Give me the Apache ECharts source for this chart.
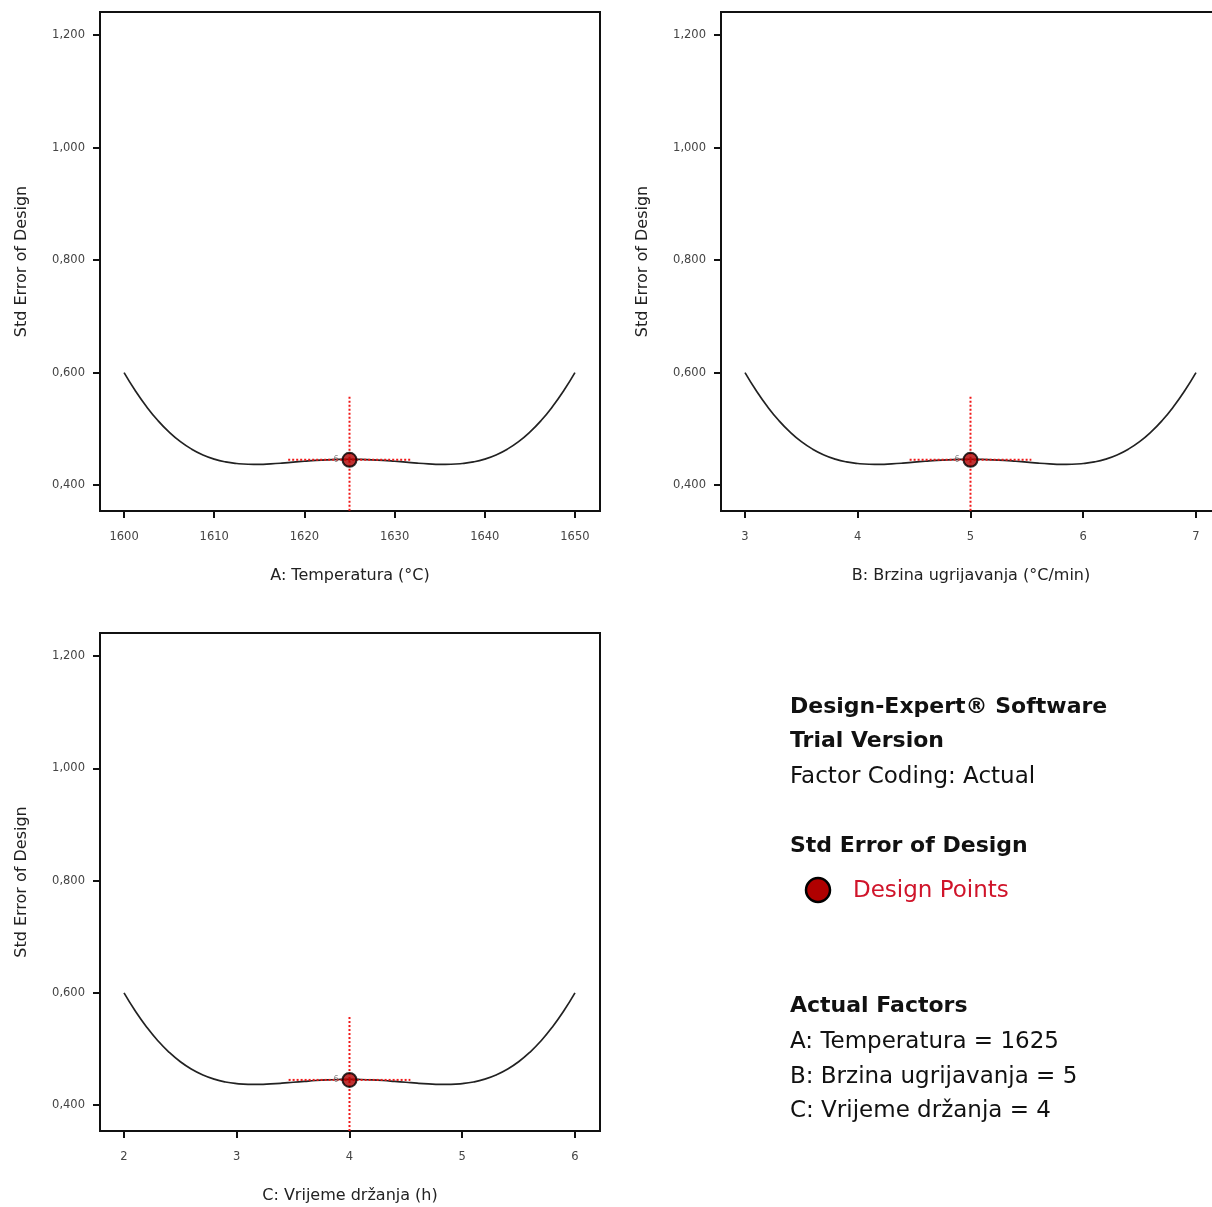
<!DOCTYPE html>
<html>
<head>
<meta charset="utf-8">
<script src="https://cdn.jsdelivr.net/npm/echarts@6/dist/echarts.min.js"></script>
<style>
html,body{margin:0;padding:0;background:#fff;}
#chart{width:1212px;height:1207px;}
</style>
</head>
<body>
<div id="chart"></div>
<script>
// ---- data ----
const tempA = [1600,1601.25,1602.5,1603.75,1605,1606.25,1607.5,1608.75,1610,1611.25,1612.5,1613.75,1615,1616.25,1617.5,1618.75,1620,1621.25,1622.5,1623.75,1625,1626.25,1627.5,1628.75,1630,1631.25,1632.5,1633.75,1635,1636.25,1637.5,1638.75,1640,1641.25,1642.5,1643.75,1645,1646.25,1647.5,1648.75,1650];
const rateB = [3,3.1,3.2,3.3,3.4,3.5,3.6,3.7,3.8,3.9,4,4.1,4.2,4.3,4.4,4.5,4.6,4.7,4.8,4.9,5,5.1,5.2,5.3,5.4,5.5,5.6,5.7,5.8,5.9,6,6.1,6.2,6.3,6.4,6.5,6.6,6.7,6.8,6.9,7];
const timeC = [2,2.1,2.2,2.3,2.4,2.5,2.6,2.7,2.8,2.9,3,3.1,3.2,3.3,3.4,3.5,3.6,3.7,3.8,3.9,4,4.1,4.2,4.3,4.4,4.5,4.6,4.7,4.8,4.9,5,5.1,5.2,5.3,5.4,5.5,5.6,5.7,5.8,5.9,6];
const stdErrA = [0.6000,0.5677,0.5393,0.5148,0.4942,0.4773,0.4639,0.4537,0.4463,0.4413,0.4384,0.4371,0.4370,0.4378,0.4391,0.4408,0.4424,0.4439,0.4450,0.4457,0.4460,0.4457,0.4450,0.4439,0.4424,0.4408,0.4391,0.4378,0.4370,0.4371,0.4384,0.4413,0.4463,0.4537,0.4639,0.4773,0.4942,0.5148,0.5393,0.5677,0.6000];
const stdErrB = [0.6000,0.5677,0.5393,0.5148,0.4942,0.4773,0.4639,0.4537,0.4463,0.4413,0.4384,0.4371,0.4370,0.4378,0.4391,0.4408,0.4424,0.4439,0.4450,0.4457,0.4460,0.4457,0.4450,0.4439,0.4424,0.4408,0.4391,0.4378,0.4370,0.4371,0.4384,0.4413,0.4463,0.4537,0.4639,0.4773,0.4942,0.5148,0.5393,0.5677,0.6000];
const stdErrC = [0.6000,0.5677,0.5393,0.5148,0.4942,0.4773,0.4639,0.4537,0.4463,0.4413,0.4384,0.4371,0.4370,0.4378,0.4391,0.4408,0.4424,0.4439,0.4450,0.4457,0.4460,0.4457,0.4450,0.4439,0.4424,0.4408,0.4391,0.4378,0.4370,0.4371,0.4384,0.4413,0.4463,0.4537,0.4639,0.4773,0.4942,0.5148,0.5393,0.5677,0.6000];

const designPointA = [1625, 0.445];
const designPointB = [5, 0.445];
const designPointC = [4, 0.445];
const replicateLabel = '6';

// red dotted cross (horizontal extent and top of vertical line)
const crossXA = [1618.2, 1631.8];
const crossXB = [4.46, 5.54];
const crossXC = [3.46, 4.54];
const crossTop = 0.557;

const xTicksA = [1600,1610,1620,1630,1640,1650];
const xTicksB = [3,4,5,6,7];
const xTicksC = [2,3,4,5,6];
const yTicks = [0.4,0.6,0.8,1.0,1.2];

const xNames = ['A: Temperatura (°C)', 'B: Brzina ugrijavanja (°C/min)', 'C: Vrijeme držanja (h)'];
const yName = 'Std Error of Design';

const infoLines = [
  {text:'Design-Expert® Software', bold:true, y:707},
  {text:'Trial Version', bold:true, y:741},
  {text:'Factor Coding: Actual', bold:false, y:777},
  {text:'Std Error of Design', bold:true, y:846},
  {text:'Actual Factors', bold:true, y:1006},
  {text:'A: Temperatura = 1625', bold:false, y:1042},
  {text:'B: Brzina ugrijavanja = 5', bold:false, y:1077},
  {text:'C: Vrijeme držanja = 4', bold:false, y:1111}
];
const legendLabel = 'Design Points';

// ---- chart ----
const FONT = '"DejaVu Sans", sans-serif';
const yMin = 0.354, yMax = 1.241;

const grids = [
  {left:100, top:12, width:500, height:499},
  {left:721, top:12, width:500, height:499},
  {left:100, top:633, width:500, height:498}
];
const xRanges = [[1597.33, 1652.78],[2.787, 7.222],[1.787, 6.222]];
const xTickSets = [xTicksA, xTicksB, xTicksC];
const xs = [tempA, rateB, timeC];
const ys = [stdErrA, stdErrB, stdErrC];
const dps = [designPointA, designPointB, designPointC];
const crosses = [crossXA, crossXB, crossXC];

const option = {
  backgroundColor:'#fff',
  animation:false,
  grid: grids.map(g => Object.assign({show:true, borderColor:'#111', borderWidth:2, backgroundColor:'transparent', containLabel:false, outerBoundsMode:'none'}, g)),
  xAxis: grids.map((g,i) => ({
    type:'value', gridIndex:i, min:xRanges[i][0], max:xRanges[i][1],
    name:xNames[i], nameLocation:'middle', nameGap:57,
    nameTextStyle:{fontFamily:FONT, fontSize:16, color:'#222'},
    axisLine:{show:false},
    splitLine:{show:false},
    axisTick:{show:true, length:7, lineStyle:{color:'#111', width:2}, customValues:xTickSets[i]},
    axisLabel:{fontFamily:FONT, fontSize:11.5, color:'#444', margin:20, customValues:xTickSets[i],
      formatter: v => String(Math.round(v))}
  })),
  yAxis: grids.map((g,i) => ({
    type:'value', gridIndex:i, min:yMin, max:yMax,
    name: yName, nameLocation:'middle', nameGap:70,
    nameTextStyle:{fontFamily:FONT, fontSize:16, color:'#222'},
    axisLine:{show:false},
    splitLine:{show:false},
    axisTick:{show:true, length:7, lineStyle:{color:'#111', width:2}, customValues:yTicks},
    axisLabel:{fontFamily:FONT, fontSize:11.5, color:'#444', margin:15, customValues:yTicks,
      formatter: v => v.toFixed(3).replace('.', ',')}
  })),
  series: []
};

grids.forEach((g,i) => {
  option.series.push({
    type:'line', xAxisIndex:i, yAxisIndex:i, smooth:true, symbol:'none',
    lineStyle:{color:'#222', width:1.7},
    data: xs[i].map((x,k) => [x, ys[i][k]]),
    z:2
  });
  option.series.push({
    type:'line', xAxisIndex:i, yAxisIndex:i, symbol:'none',
    lineStyle:{color:'#f01818', width:2, type:[2,2]},
    data: [[crosses[i][0], dps[i][1]], [crosses[i][1], dps[i][1]]],
    z:3
  });
  option.series.push({
    type:'line', xAxisIndex:i, yAxisIndex:i, symbol:'none',
    lineStyle:{color:'#f01818', width:2, type:[2,2]},
    data: [[dps[i][0], crossTop], [dps[i][0], yMin]],
    z:3
  });
  option.series.push({
    type:'scatter', name:legendLabel, xAxisIndex:i, yAxisIndex:i,
    symbol:'circle', symbolSize:14,
    itemStyle:{color:'#b00000', borderColor:'#000', borderWidth:2},
    label:{show:true, position:'left', distance:3, formatter:replicateLabel, fontSize:8, color:'#666', fontFamily:FONT},
    data:[dps[i]],
    z:5
  });
});

option.graphic = infoLines.map(l => ({
  type:'text', x:790, y:l.y,
  style:{text:l.text, fontFamily:FONT, fontSize:l.bold?22:23, fontWeight:l.bold?'bold':'normal', fill:'#111', verticalAlign:'middle', align:'left'}
})).concat([
  {type:'circle', shape:{cx:818, cy:890, r:12}, style:{fill:'#b00000', stroke:'#000', lineWidth:2.5}},
  {type:'text', x:853, y:891, style:{text:legendLabel, fontFamily:FONT, fontSize:23, fill:'#d0142a', verticalAlign:'middle', align:'left'}}
]);

const chart = echarts.init(document.getElementById('chart'), null, {renderer:'canvas'});
chart.setOption(option);
</script>
</body>
</html>
